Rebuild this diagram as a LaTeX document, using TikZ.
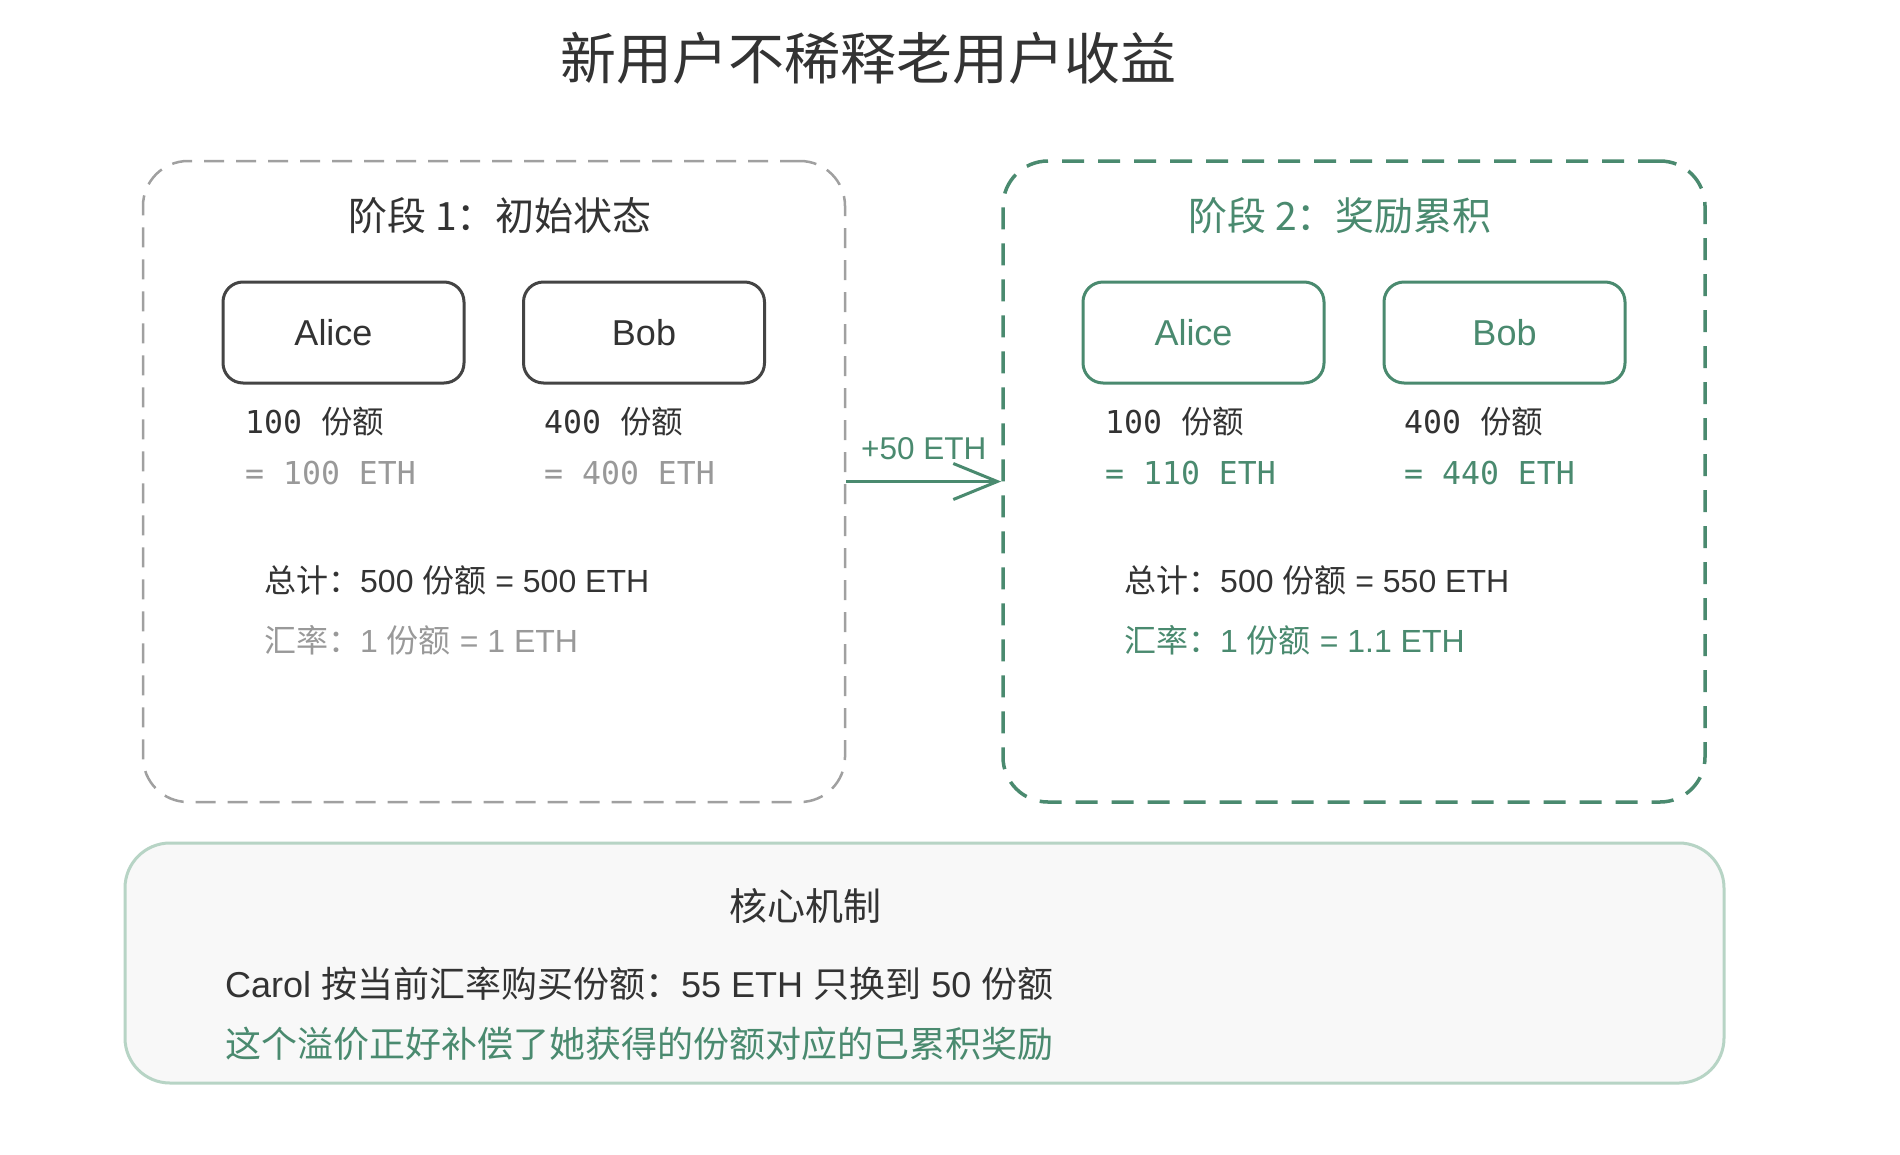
\documentclass[tikz,border=0pt]{standalone}
\usepackage{fontspec}
\setmainfont{Liberation Sans}
\newfontfamily\cjk{Noto Sans CJK SC}
\newfontfamily\mono{DejaVu Sans Mono}
\usetikzlibrary{arrows.meta}
\definecolor{dark}{HTML}{333333}
\definecolor{grayt}{HTML}{999999}
\definecolor{grn}{HTML}{4A8A6F}
\definecolor{grayline}{HTML}{A0A0A0}
\definecolor{boxfill}{HTML}{F8F8F8}
\definecolor{boxline}{HTML}{B7D4C5}
\definecolor{nodeline}{HTML}{444444}
\tikzset{
  stagebox/.style={line width=2.5pt, rounded corners=45pt, minimum width=702pt, minimum height=641pt, inner sep=0pt},
  person/.style={line width=3pt, rounded corners=20pt, minimum width=241pt, minimum height=101pt, inner sep=0pt, font=\fontsize{36}{40}\selectfont},
  stagetitle/.style={font=\cjk\fontsize{39}{44}\selectfont},
  monotext/.style={anchor=west, inner sep=0pt, font=\mono\fontsize{31.5}{36}\selectfont},
  sumtext/.style={anchor=west, inner sep=0pt, font=\fontsize{32}{36}\selectfont},
  coretext/.style={anchor=west, inner sep=0pt, font=\fontsize{36}{40}\selectfont},
}
\begin{document}
\begin{tikzpicture}[x=1pt,y=-1pt]
\useasboundingbox[fill=white] (0,0) rectangle (1900,1154);

% title
\node[font=\cjk\fontsize{56}{60}\selectfont, text=dark] (title) at (868,58) {新用户不稀释老用户收益};

% stage boxes
\node[stagebox, draw=grayline, dash pattern=on 20pt off 12pt] (s1) at (494,481.5) {};
\node[stagebox, draw=grn, line width=3.5pt, dash pattern=on 22pt off 14pt] (s2) at (1354,481.5) {};

\node[stagetitle, text=dark] (t1) at (500,216) {阶段 1：初始状态};
\node[stagetitle, text=grn] (t2) at (1340,216) {阶段 2：奖励累积};

% persons stage 1
\node[person, draw=nodeline, text=dark] (a1) at (343.5,332.5) {Alice\hspace{20pt}\null};
\node[person, draw=nodeline, text=dark] (b1) at (644,332.5) {Bob};
% persons stage 2
\node[person, draw=grn, text=grn] (a2) at (1203.5,332.5) {Alice\hspace{20pt}\null};
\node[person, draw=grn, text=grn] (b2) at (1504.5,332.5) {Bob};

% shares stage 1
\node[monotext, text=dark] (a1s) at (245,422) {100 {\cjk 份额}};
\node[monotext, text=grayt] (a1e) at (245,473) {= 100 ETH};
\node[monotext, text=dark] (b1s) at (544,422) {400 {\cjk 份额}};
\node[monotext, text=grayt] (b1e) at (544,473) {= 400 ETH};
% shares stage 2
\node[monotext, text=dark] (a2s) at (1105,422) {100 {\cjk 份额}};
\node[monotext, text=grn] (a2e) at (1105,473) {= 110 ETH};
\node[monotext, text=dark] (b2s) at (1404,422) {400 {\cjk 份额}};
\node[monotext, text=grn] (b2e) at (1404,473) {= 440 ETH};

% totals
\node[sumtext, text=dark] (tot1) at (264,580) {{\cjk 总计：}500 {\cjk 份额} = 500 ETH};
\node[sumtext, text=grayt] (rate1) at (264,640) {{\cjk 汇率：}1 {\cjk 份额} = 1 ETH};
\node[sumtext, text=dark] (tot2) at (1124,580) {{\cjk 总计：}500 {\cjk 份额} = 550 ETH};
\node[sumtext, text=grn] (rate2) at (1124,640) {{\cjk 汇率：}1 {\cjk 份额} = 1.1 ETH};

% arrow
\draw[grn, line width=3pt, -{Straight Barb[length=44pt,width=36pt]}] (s1.east) -- (s2.west)
  node[midway, above=20pt, inner sep=0pt, font=\fontsize{31.5}{34}\selectfont, text=grn] (lbl) {+50 ETH};

% core box
\node[draw=boxline, fill=boxfill, line width=3pt, rounded corners=45pt, minimum width=1599pt, minimum height=240pt, inner sep=0pt] (core) at (924.5,963) {};
\node[font=\cjk\fontsize{38}{42}\selectfont, text=dark] (coretitle) at (805,906) {核心机制};
\node[coretext, text=dark] (carol) at (225,984) {Carol {\cjk 按当前汇率购买份额：}55 ETH {\cjk 只换到} 50 {\cjk 份额}};
\node[coretext, text=grn] (note) at (225,1044) {\cjk 这个溢价正好补偿了她获得的份额对应的已累积奖励};
\end{tikzpicture}
\end{document}
